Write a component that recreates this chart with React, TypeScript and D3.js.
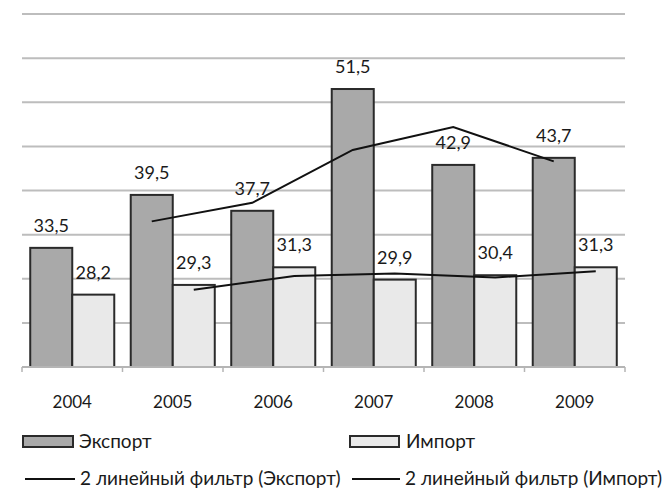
import React from "react";
import * as d3 from "d3";

const years = ["2004", "2005", "2006", "2007", "2008", "2009"];
const exportValues = [33.5, 39.5, 37.7, 51.5, 42.9, 43.7];
const importValues = [28.2, 29.3, 31.3, 29.9, 30.4, 31.3];
const labelsExport = ["33,5", "39,5", "37,7", "51,5", "42,9", "43,7"];
const labelsImport = ["28,2", "29,3", "31,3", "29,9", "30,4", "31,3"];
const yTicks = [20, 25, 30, 35, 40, 45, 50, 55, 60];
const seriesNames = ["Экспорт", "Импорт"];
const trendNames = ["2 линейный фильтр (Экспорт)", "2 линейный фильтр (Импорт)"];

const W = 666;
const H = 489;
const FONT = "Lato, 'Open Sans', sans-serif";

function movingAvg(vals: number[]) {
  const out: { i: number; v: number }[] = [];
  for (let i = 1; i < vals.length; i++) out.push({ i, v: (vals[i] + vals[i - 1]) / 2 });
  return out;
}

export default function App() {
  const x = d3.scaleBand<string>().domain(years).range([22, 625]).padding(0);
  const inner = d3
    .scaleBand<string>()
    .domain(["exp", "imp"])
    .range([0, x.bandwidth()])
    .paddingInner(0)
    .paddingOuter(0.196);
  const y = d3.scaleLinear().domain([20, 60]).range([367, 14]);

  const cx = (i: number, s: string) => (x(years[i]) as number) + (inner(s) as number) + inner.bandwidth() / 2;
  const expMA = movingAvg(exportValues).map((d) => ({ ...d, x: cx(d.i, "exp") }));
  const impMA = movingAvg(importValues).map((d) => ({ ...d, x: cx(d.i, "imp") }));
  const lineGen = d3
    .line<any>()
    .x((d) => d.x)
    .y((d) => y(d.v));

  const boundaries = years.map((yr) => x(yr) as number).concat([625]);

  return (
    <svg
      width={W}
      height={H}
      style={{ position: "absolute", left: 0, top: 0, background: "#fff" }}
      fontFamily={FONT}
    >
      {/* gridlines */}
      {yTicks.slice(1).map((t) => (
        <line key={t} x1={22} x2={625} y1={y(t)} y2={y(t)} stroke="#bdbdbd" strokeWidth={2} />
      ))}
      {/* bars */}
      {years.map((yr, i) => (
        <g key={yr}>
          <rect
            x={(x(yr) as number) + (inner("exp") as number)}
            y={y(exportValues[i])}
            width={inner.bandwidth()}
            height={y(20) - y(exportValues[i])}
            fill="#a9a9a9"
            stroke="#2a2a2a"
            strokeWidth={2}
          />
          <rect
            x={(x(yr) as number) + (inner("imp") as number)}
            y={y(importValues[i])}
            width={inner.bandwidth()}
            height={y(20) - y(importValues[i])}
            fill="#e9e9e9"
            stroke="#2a2a2a"
            strokeWidth={2}
          />
        </g>
      ))}
      {/* axis */}
      <line x1={22} x2={625} y1={y(20)} y2={y(20)} stroke="#b5b5b5" strokeWidth={2} />
      {boundaries.map((b, i) => (
        <line key={i} x1={b} x2={b} y1={y(20)} y2={y(20) + 5} stroke="#b5b5b5" strokeWidth={1.5} />
      ))}
      {/* moving average lines */}
      <path d={lineGen(expMA) as string} fill="none" stroke="#111" strokeWidth={2} />
      <path d={lineGen(impMA) as string} fill="none" stroke="#111" strokeWidth={2} />
      {/* data labels */}
      {years.map((yr, i) => (
        <g key={"l" + yr} fontSize={18} fill="#1a1a1a" textAnchor="middle">
          <text x={cx(i, "exp")} y={y(exportValues[i]) - 16}>
            {labelsExport[i]}
          </text>
          <text x={cx(i, "imp")} y={y(importValues[i]) - 16}>
            {labelsImport[i]}
          </text>
        </g>
      ))}
      {/* category labels */}
      {years.map((yr) => (
        <text
          key={"c" + yr}
          x={(x(yr) as number) + x.bandwidth() / 2}
          y={408}
          textAnchor="middle"
          fontSize={17}
          fill="#1a1a1a"
        >
          {yr}
        </text>
      ))}
      {/* legend */}
      <rect x={23} y={436} width={50} height={11} fill="#a9a9a9" stroke="#2a2a2a" strokeWidth={2} />
      <text x={79} y={448} fontSize={19} fill="#1a1a1a">
        {seriesNames[0]}
      </text>
      <rect x={350} y={436} width={49} height={11} fill="#e9e9e9" stroke="#2a2a2a" strokeWidth={2} />
      <text x={406} y={448} fontSize={19} fill="#1a1a1a">
        {seriesNames[1]}
      </text>
      <line x1={25} x2={75} y1={479} y2={479} stroke="#111" strokeWidth={2} />
      <text x={80} y={485} fontSize={19} fill="#1a1a1a">
        {trendNames[0]}
      </text>
      <line x1={352} x2={400} y1={479} y2={479} stroke="#111" strokeWidth={2} />
      <text x={405} y={485} fontSize={19} fill="#1a1a1a">
        {trendNames[1]}
      </text>
    </svg>
  );
}
